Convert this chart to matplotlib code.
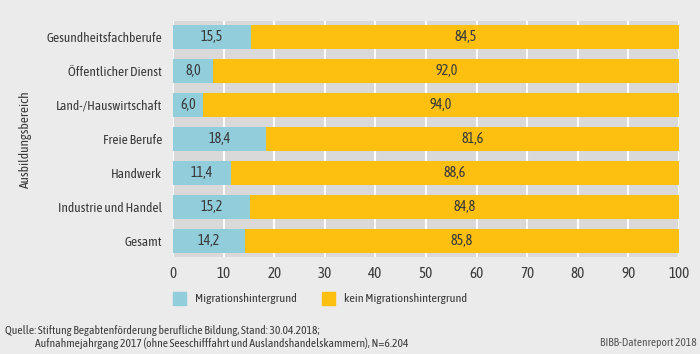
import matplotlib
matplotlib.use("Agg")
import matplotlib.pyplot as plt
from matplotlib.patches import Rectangle
from matplotlib import font_manager
from matplotlib.textpath import TextPath
from matplotlib.font_manager import FontProperties

categories = ["Gesundheitsfachberufe", "Öffentlicher Dienst", "Land-/Hauswirtschaft",
              "Freie Berufe", "Handwerk", "Industrie und Handel", "Gesamt"]
migration = [15.5, 8.0, 6.0, 18.4, 11.4, 15.2, 14.2]
no_migration = [84.5, 92.0, 94.0, 81.6, 88.6, 84.8, 85.8]
series_names = ["Migrationshintergrund", "kein Migrationshintergrund"]
xticks = [0, 10, 20, 30, 40, 50, 60, 70, 80, 90, 100]
source1 = "Quelle: Stiftung Begabtenförderung berufliche Bildung, Stand: 30.04.2018;"
source2 = "Aufnahmejahrgang 2017 (ohne Seeschifffahrt und Auslandshandelskammern), N=6.204"
credit = "BIBB-Datenreport 2018"

names = {f.name for f in font_manager.fontManager.ttflist}
fam = "DejaVu Sans"
for cand in ["Asap Condensed", "Archivo Narrow", "PT Sans Narrow", "Roboto Condensed",
             "Fira Sans Condensed", "Liberation Sans Narrow"]:
    if cand in names:
        fam = cand
        break
plt.rcParams['font.family'] = [fam, 'DejaVu Sans']


def fit_size(text, target_px, lo=7, hi=13):
    fp = FontProperties(family=fam)
    w = TextPath((0, 0), text, size=10, prop=fp).get_extents().width
    px = w * 100 / 72
    s = 10 * target_px / px
    return max(lo, min(hi, s))


BLUE = "#92cddc"
YELLOW = "#fdc010"
TXT = "#3a3a3a"
BG = "#ebebeb"
PLOTBG = "#d9d9d9"
FS_CAT = fit_size("Gesundheitsfachberufe", 114)
FS_VAL = fit_size("84,5", 21)
FS_TICK = fit_size("100", 20)
FS_LEG = fit_size("Migrationshintergrund", 100)
FS_SRC = fit_size(source2, 368)
FS_CRED = fit_size(credit, 95)

fig = plt.figure(figsize=(7, 3.54), dpi=100, facecolor=BG)
ax = fig.add_axes([173/700, 1-257/354, (679-173)/700, (257-21)/354])
ax.set_facecolor(PLOTBG)

y = list(range(len(categories)))[::-1]
h = 0.7
ax.barh(y, migration, height=h, color=BLUE, zorder=3)
ax.barh(y, no_migration, left=migration, height=h, color=YELLOW, zorder=3)
for yi, m, n in zip(y, migration, no_migration):
    ax.text(m/2, yi, f"{m:.1f}".replace(".", ","), ha="center", va="center",
            fontsize=FS_VAL, color=TXT, zorder=4)
    ax.text(m + n/2, yi, f"{n:.1f}".replace(".", ","), ha="center", va="center",
            fontsize=FS_VAL, color=TXT, zorder=4)

ax.set_xlim(0, 100)
ax.set_ylim(-0.47, 6.47)
ax.set_xticks(xticks)
ax.set_xticklabels([str(t) for t in xticks], fontsize=FS_TICK, color=TXT)
ax.set_yticks(y)
ax.set_yticklabels(categories, fontsize=FS_CAT, color=TXT)
ax.tick_params(length=0, pad=7)
ax.tick_params(axis='y', pad=8)
ax.grid(axis='x', color='white', linewidth=1.5, zorder=1)
for s in ax.spines.values():
    s.set_visible(False)

fig.text(25/700, 1-139/354, "Ausbildungsbereich", rotation=90, ha="center", va="center",
         fontsize=FS_CAT, color=TXT)

# legend
for x0, col, name in [(173, BLUE, series_names[0]), (322, YELLOW, series_names[1])]:
    fig.patches.append(Rectangle((x0/700, 1-305/354), 13/700, 13/354, color=col,
                                 transform=fig.transFigure, figure=fig))
    fig.text((x0+22)/700, 1-299/354, name, ha="left", va="center", fontsize=FS_LEG, color=TXT)

fig.text(5/700, 1-330/354, source1, ha="left", va="center", fontsize=FS_SRC, color=TXT)
fig.text(35/700, 1-343/354, source2, ha="left", va="center", fontsize=FS_SRC, color=TXT)
fig.text(697/700, 1-343/354, credit, ha="right", va="center", fontsize=FS_CRED, color="#555555")

fig.savefig("out.png", dpi=100, facecolor=BG)
